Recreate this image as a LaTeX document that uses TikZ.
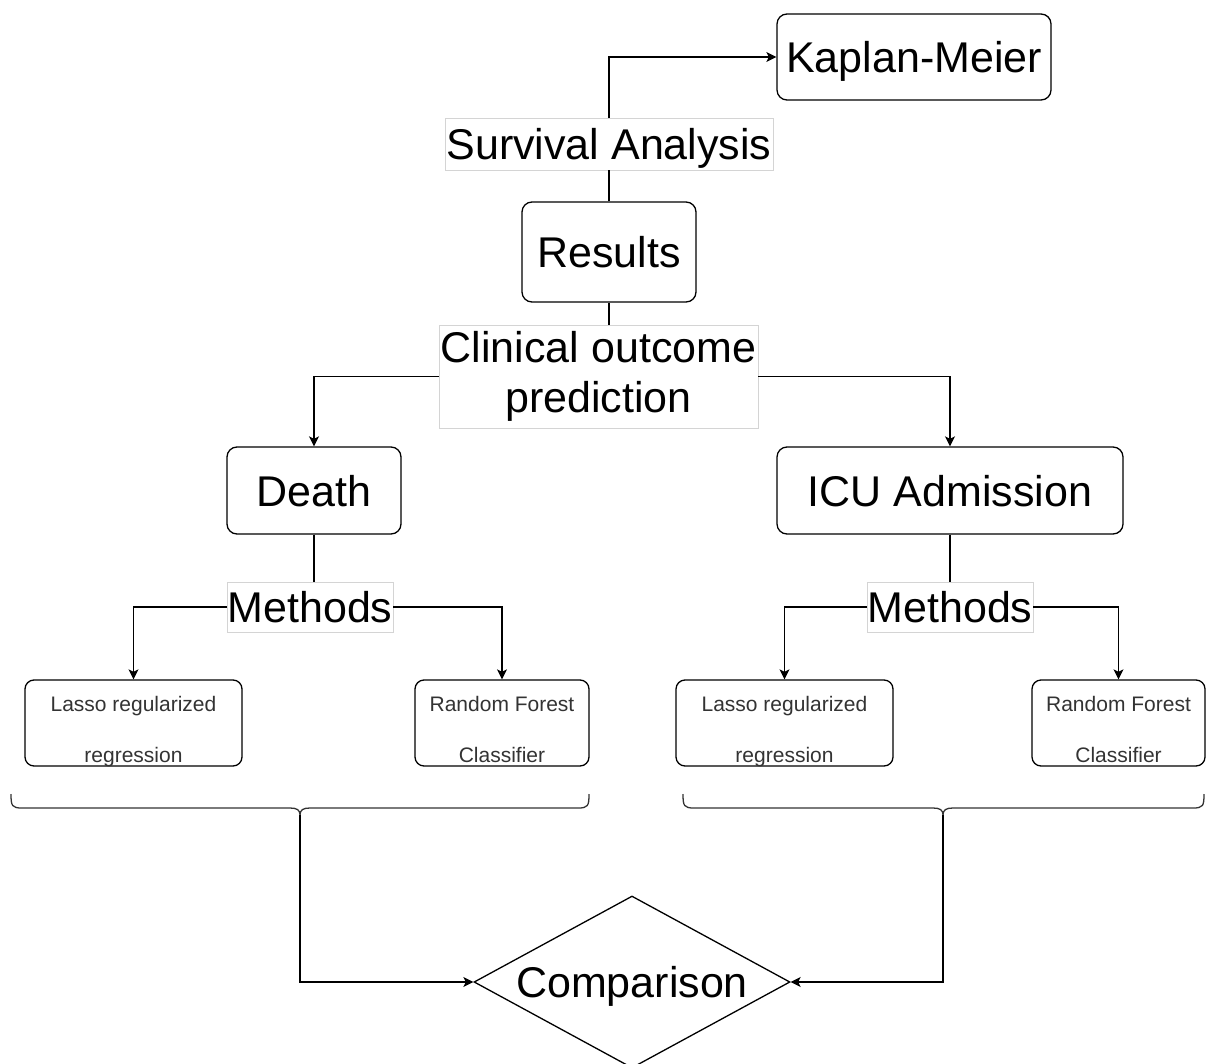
\documentclass[tikz,border=0pt]{standalone}
\usepackage{fontspec}
\setmainfont{Liberation Sans}
\usetikzlibrary{shapes.geometric,arrows.meta,calc}
\definecolor{lblline}{HTML}{D4D4D4}
\begin{document}
\begin{tikzpicture}[x=1pt,y=-1pt,
  bigtext/.style={font=\fontsize{43}{50}\selectfont},
  oneline/.style={text height=31pt, text depth=0pt},
  box/.style={draw, rounded corners=10pt, line width=1.3pt, inner sep=0pt, bigtext, oneline},
  lbl/.style={draw=lblline, fill=white, line width=0.9pt, inner sep=0pt, align=center, bigtext},
  sbox/.style={draw, rounded corners=9pt, line width=1.3pt, inner sep=0pt, minimum height=86pt},
  stxt/.style={font=\fontsize{21}{24}\selectfont, anchor=base, text=black!80},
  conn/.style={line width=1.3pt},
  arr/.style={conn, -{Stealth[length=10pt,width=10pt,inset=2.5pt]}},
  bracepath/.style={line width=1.3pt, draw=black!80}]
\useasboundingbox (0,0) rectangle (1206,1064);

% main boxes
\node[box, minimum width=274pt, minimum height=86pt] (km) at (914,57) {Kaplan-Meier};
\node[box, minimum width=174pt, minimum height=100pt] (res) at (609,252) {Results};
\node[box, minimum width=174pt, minimum height=87pt] (death) at (314,490.5) {Death};
\node[box, minimum width=346pt, minimum height=87pt] (icu) at (950,490.5) {ICU Admission};

% connectors top
\node[lbl, oneline, minimum width=328pt, minimum height=52pt] (surv) at (609,144) {Survival Analysis};
\draw[conn] (res.north) -- (surv.south);
\draw[arr] (surv.north) |- (km.west);

\node[lbl, minimum width=319pt, minimum height=103pt] (clin) at (598.5,376.5) {Clinical outcome\\prediction};
\draw[conn] (res.south) -- (res.south |- clin.north);
\draw[arr] (clin.west) -| (death.north);
\draw[arr] (clin.east) -| (icu.north);

% small boxes
\node[sbox, minimum width=217pt] (lassoL) at (133.5,723) {};
\node[sbox, minimum width=174pt] (rfL) at (502,723) {};
\node[sbox, minimum width=217pt] (lassoR) at (784.5,723) {};
\node[sbox, minimum width=173pt] (rfR) at (1118.5,723) {};
\node[stxt] (lassoLa) at ($(lassoL.north)+(0,32)$) {Lasso regularized};
\node[stxt] (lassoLb) at ($(lassoL.north)+(0,83)$) {regression};
\node[stxt] (rfLa) at ($(rfL.north)+(0,32)$) {Random Forest};
\node[stxt] (rfLb) at ($(rfL.north)+(0,83)$) {Classifier};
\node[stxt] (lassoRa) at ($(lassoR.north)+(0,32)$) {Lasso regularized};
\node[stxt] (lassoRb) at ($(lassoR.north)+(0,83)$) {regression};
\node[stxt] (rfRa) at ($(rfR.north)+(0,32)$) {Random Forest};
\node[stxt] (rfRb) at ($(rfR.north)+(0,83)$) {Classifier};

% methods
\node[lbl, oneline, minimum width=166pt, minimum height=50pt] (mL) at (310,607) {Methods};
\node[lbl, oneline, minimum width=166pt, minimum height=50pt] (mR) at (950,607) {Methods};
\draw[conn] (death.south) -- (death.south |- mL.north);
\draw[conn] (icu.south) -- (mR.north);
\draw[arr] (mL.west) -| (lassoL.north);
\draw[arr] (mL.east) -| (rfL.north);
\draw[arr] (mR.west) -| (lassoR.north);
\draw[arr] (mR.east) -| (rfR.north);

% braces
\draw[bracepath] (11,794) .. controls (11,806) and (12,808) .. (22,808) -- (290,808)
  .. controls (297,808) and (300,810) .. (300,815)
  .. controls (300,810) and (303,808) .. (310,808) -- (578,808)
  .. controls (588,808) and (589,806) .. (589,794);
\draw[bracepath] (683,794) .. controls (683,806) and (684,808) .. (694,808) -- (933,808)
  .. controls (940,808) and (943,810) .. (943,815)
  .. controls (943,810) and (946,808) .. (953,808) -- (1193,808)
  .. controls (1203,808) and (1204,806) .. (1204,794);
\coordinate (braceL) at (300,815);
\coordinate (braceR) at (943,815);

% comparison
\node[diamond, draw, line width=1.3pt, inner sep=0pt, aspect=1.84, minimum width=316pt, minimum height=172pt, bigtext, oneline] (cmp) at (632,982) {Comparison};
\draw[arr] (braceL) |- (cmp.west);
\draw[arr] (braceR) |- (cmp.east);
\end{tikzpicture}
\end{document}
